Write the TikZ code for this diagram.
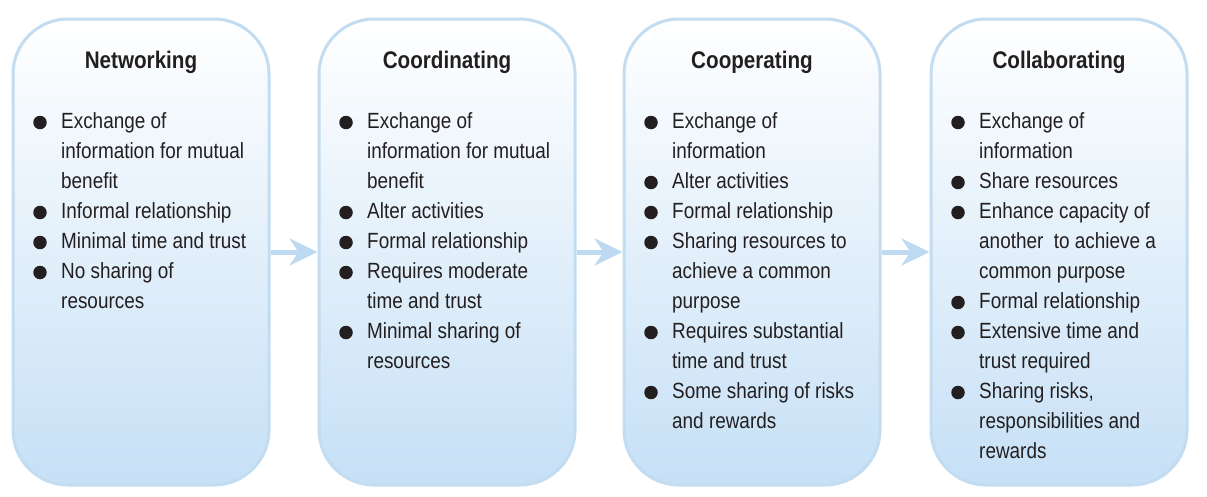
\documentclass[tikz,border=0pt]{standalone}
\usepackage{fontspec}
\setmainfont{Liberation Sans}[FakeStretch=0.86]
\usetikzlibrary{arrows.meta}
\definecolor{boxborder}{RGB}{194,220,242}
\definecolor{boxfill}{RGB}{198,224,246}
\definecolor{arrowblue}{RGB}{190,218,243}
\definecolor{txt}{RGB}{35,31,32}
\tikzset{
  stagebox/.style={draw=boxborder, line width=3pt, rounded corners=55pt,
    top color=white, bottom color=boxfill, minimum width=256pt, minimum height=466pt,
    inner sep=0pt},
  stagetitle/.style={font=\fontsize{24}{28}\selectfont\bfseries, text=txt, anchor=base, inner sep=0pt},
  line/.style={font=\fontsize{22}{30}\selectfont, text=txt, anchor=base west, inner sep=0pt},
  dot/.style={circle, fill=txt, minimum size=13.5pt, inner sep=0pt},
  flow/.style={draw=arrowblue, line width=5pt, -{Stealth[length=28pt, width=27pt, inset=9pt, fill=arrowblue]}}
}
\newcommand{\Ln}[4]{\node[line] (#1) at (#2+48, 128+30*#3) {#4};}
\newcommand{\Bt}[3]{\node[dot] (#1) at (#2+27, 122.5+30*#3) {};}
\begin{document}
\begin{tikzpicture}[x=1pt, y=-1pt]
\useasboundingbox (0,0) rectangle (1207,496);
% boxes
\node[stagebox] (b1) at (141,252) {};
\node[stagebox] (b2) at (447,252) {};
\node[stagebox] (b3) at (752,252) {};
\node[stagebox] (b4) at (1059,252) {};
% arrows
\draw[flow] (b1.east) -- (b2.west);
\draw[flow] (b2.east) -- (b3.west);
\draw[flow] (b3.east) -- (b4.west);
% titles
\node[stagetitle] (t1) at (141,68) {Networking};
\node[stagetitle] (t2) at (447,68) {Coordinating};
\node[stagetitle] (t3) at (752,68) {Cooperating};
\node[stagetitle] (t4) at (1059,68) {Collaborating};
% box 1
\Bt{d11}{13}{0} \Ln{l11}{13}{0}{Exchange of}
\Ln{l12}{13}{1}{information for mutual}
\Ln{l13}{13}{2}{benefit}
\Bt{d12}{13}{3} \Ln{l14}{13}{3}{Informal relationship}
\Bt{d13}{13}{4} \Ln{l15}{13}{4}{Minimal time and trust}
\Bt{d14}{13}{5} \Ln{l16}{13}{5}{No sharing of}
\Ln{l17}{13}{6}{resources}
% box 2
\Bt{d21}{319}{0} \Ln{l21}{319}{0}{Exchange of}
\Ln{l22}{319}{1}{information for mutual}
\Ln{l23}{319}{2}{benefit}
\Bt{d22}{319}{3} \Ln{l24}{319}{3}{Alter activities}
\Bt{d23}{319}{4} \Ln{l25}{319}{4}{Formal relationship}
\Bt{d24}{319}{5} \Ln{l26}{319}{5}{Requires moderate}
\Ln{l27}{319}{6}{time and trust}
\Bt{d25}{319}{7} \Ln{l28}{319}{7}{Minimal sharing of}
\Ln{l29}{319}{8}{resources}
% box 3
\Bt{d31}{624}{0} \Ln{l31}{624}{0}{Exchange of}
\Ln{l32}{624}{1}{information}
\Bt{d32}{624}{2} \Ln{l33}{624}{2}{Alter activities}
\Bt{d33}{624}{3} \Ln{l34}{624}{3}{Formal relationship}
\Bt{d34}{624}{4} \Ln{l35}{624}{4}{Sharing resources to}
\Ln{l36}{624}{5}{achieve a common}
\Ln{l37}{624}{6}{purpose}
\Bt{d35}{624}{7} \Ln{l38}{624}{7}{Requires substantial}
\Ln{l39}{624}{8}{time and trust}
\Bt{d36}{624}{9} \Ln{l310}{624}{9}{Some sharing of risks}
\Ln{l311}{624}{10}{and rewards}
% box 4
\Bt{d41}{931}{0} \Ln{l41}{931}{0}{Exchange of}
\Ln{l42}{931}{1}{information}
\Bt{d42}{931}{2} \Ln{l43}{931}{2}{Share resources}
\Bt{d43}{931}{3} \Ln{l44}{931}{3}{Enhance capacity of}
\Ln{l45}{931}{4}{another\ \ to achieve a}
\Ln{l46}{931}{5}{common purpose}
\Bt{d44}{931}{6} \Ln{l47}{931}{6}{Formal relationship}
\Bt{d45}{931}{7} \Ln{l48}{931}{7}{Extensive time and}
\Ln{l49}{931}{8}{trust required}
\Bt{d46}{931}{9} \Ln{l410}{931}{9}{Sharing risks,}
\Ln{l411}{931}{10}{responsibilities and}
\Ln{l412}{931}{11}{rewards}
\end{tikzpicture}
\end{document}
